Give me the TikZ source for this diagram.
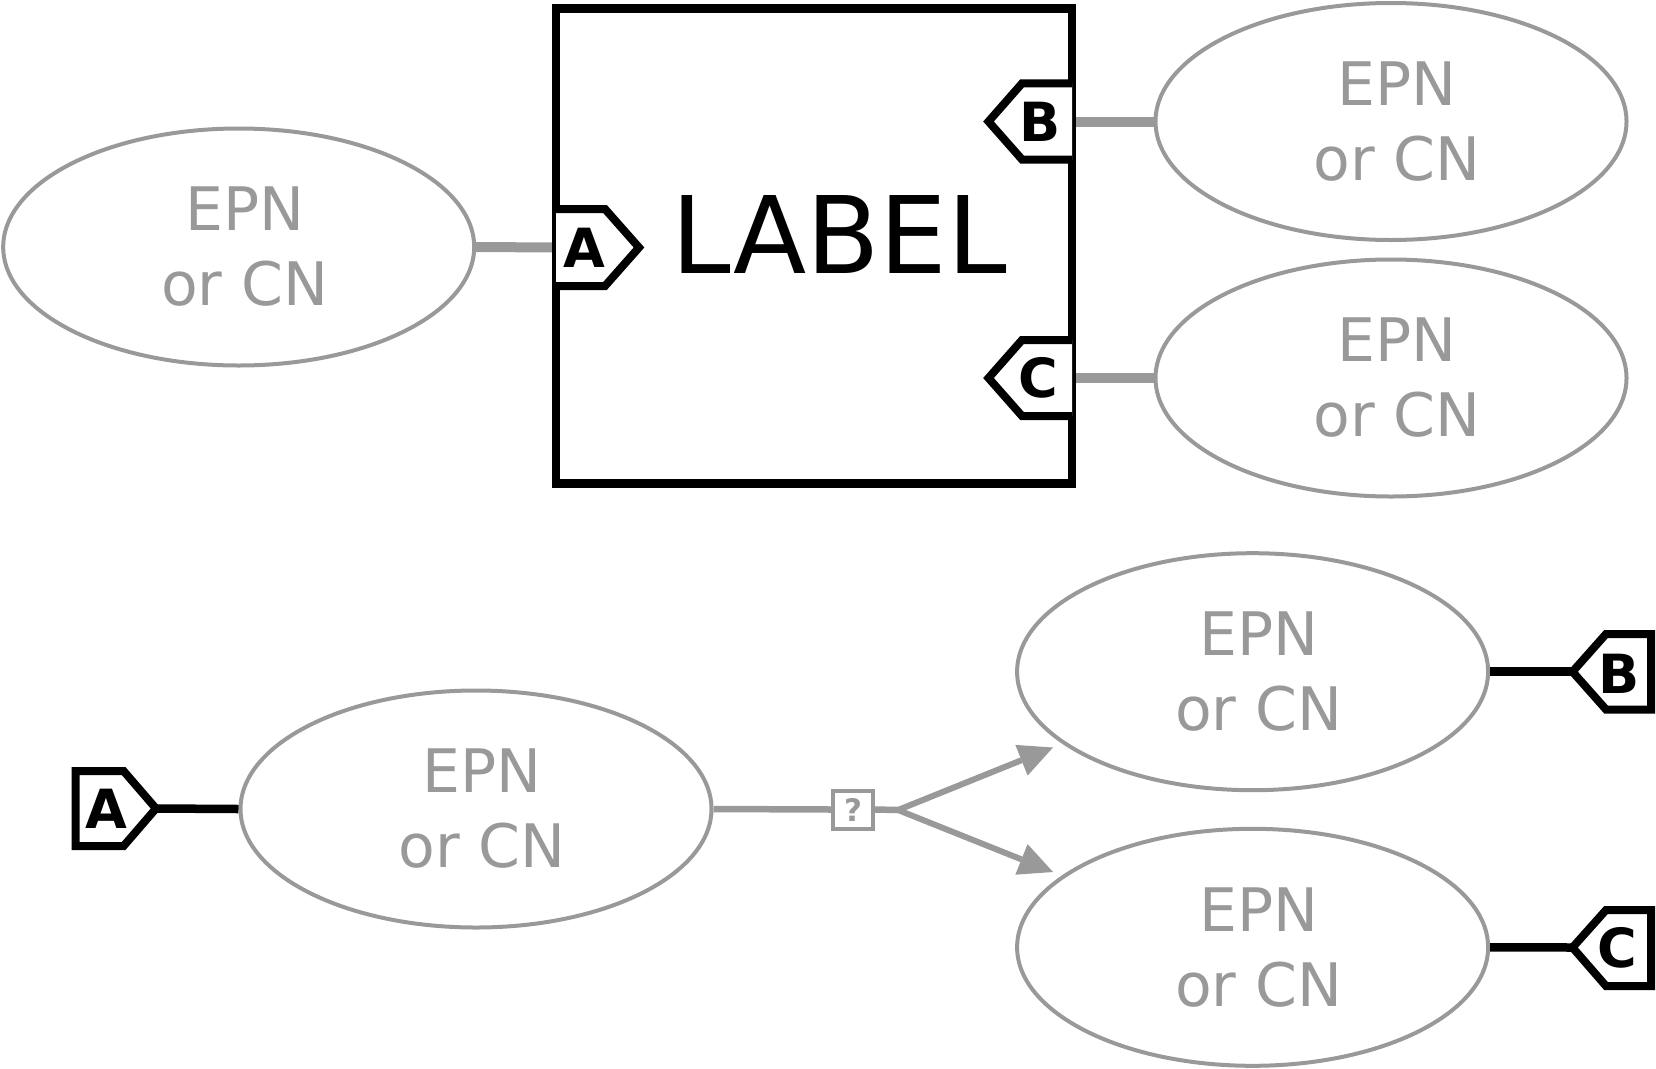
\documentclass[tikz,border=0pt]{standalone}
\usepackage{fontspec}
\setmainfont{DejaVu Sans}
\usetikzlibrary{shapes.geometric,arrows.meta}
\definecolor{epngray}{HTML}{999999}
\newcommand{\epntext}{\hspace*{12pt}EPN\\\hspace*{12pt}or CN}
\begin{document}
\begin{tikzpicture}[x=1pt,y=-1pt,
 epn/.style={ellipse, draw=epngray, line width=4pt, minimum width=471pt, minimum height=237pt, inner sep=0pt, align=center, text=epngray, font=\fontsize{60}{75}\selectfont},
 tagshape/.style={draw=black, line width=8pt, fill=white, line join=miter},
 taglbl/.style={font=\bfseries\fontsize{54}{54}\selectfont, inner sep=0pt},
 gconn/.style={draw=epngray, line width=10pt},
 bconn/.style={draw=black, line width=8.5pt},
 pline/.style={draw=epngray, line width=6.5pt},
 parrow/.style={draw=epngray, line width=6pt, -{Triangle[length=34pt,width=33pt,line width=0pt]}},
]
\useasboundingbox (0,0) rectangle (1656,1068);

% ---------- top part ----------
\node[epn] (e1) at (238.7,247) {\epntext};
\node[epn] (e2) at (1391,121.5) {\epntext};
\node[epn] (e3) at (1391,378) {\epntext};

\coordinate (pA) at (556,247.5);
\coordinate (pB) at (1072,121.5);
\coordinate (pC) at (1072,378);
\draw[gconn] (e1.east) -- (pA);
\draw[gconn] (pB) -- (e2.west);
\draw[gconn] (pC) -- (e3.west);

\node[draw=black, line width=8.3pt, minimum width=516pt, minimum height=475pt, inner sep=0pt] (box) at (814,246) {};
\node[font=\fontsize{107}{107}\selectfont, inner sep=0pt] (lbl) at (839,234) {LABEL};

\draw[tagshape] (556,209) -- (605,209) -- (639,247.5) -- (605,286) -- (556,286);
\node[taglbl] (tA) at (584,248) {A};
\draw[tagshape] (1072,83.4) -- (1022,83.4) -- (988.5,121.5) -- (1022,159.5) -- (1072,159.5);
\node[taglbl] (tB) at (1040,122) {B};
\draw[tagshape] (1072,340) -- (1022,340) -- (988.5,378) -- (1022,416) -- (1072,416);
\node[taglbl] (tC) at (1038,378) {C};

% ---------- bottom part ----------
\node[epn] (e4) at (476,809) {\epntext};
\node[epn] (e5) at (1252.6,671.7) {\epntext};
\node[epn] (e6) at (1252.6,947.3) {\epntext};

\coordinate (qA) at (156,808.5);
\coordinate (qB) at (1572.5,671.7);
\coordinate (qC) at (1572.5,947.5);
\draw[bconn] (qA) -- (e4.west);
\draw[bconn] (e5.east) -- (qB);
\draw[bconn] (e6.east) -- (qC);

\draw[tagshape] (75.5,771) -- (123.6,771) -- (156,808.5) -- (123.6,846) -- (75.5,846) -- cycle;
\node[taglbl] (bA) at (106,809) {A};
\draw[tagshape] (1651,634) -- (1606,634) -- (1572.5,671.7) -- (1606,709.5) -- (1651,709.5) -- cycle;
\node[taglbl] (bB) at (1619,674) {B};
\draw[tagshape] (1651,910) -- (1606,910) -- (1572.5,947.5) -- (1606,986) -- (1651,986) -- cycle;
\node[taglbl] (bC) at (1617,948) {C};

% process
\node[draw=epngray, line width=4pt, minimum width=40pt, minimum height=38pt, inner sep=0pt, text=epngray, font=\bfseries\fontsize{31}{31}\selectfont] (q) at (853,809.5) {?};
\coordinate (br) at (898,810);
\coordinate (t1) at (1053,747.5);
\coordinate (t2) at (1053,872);
\draw[pline] (e4.east) -- (q.west);
\draw[pline] (q.east) -- (br);
\draw[parrow] (br) -- (t1);
\draw[parrow] (br) -- (t2);
\end{tikzpicture}
\end{document}
